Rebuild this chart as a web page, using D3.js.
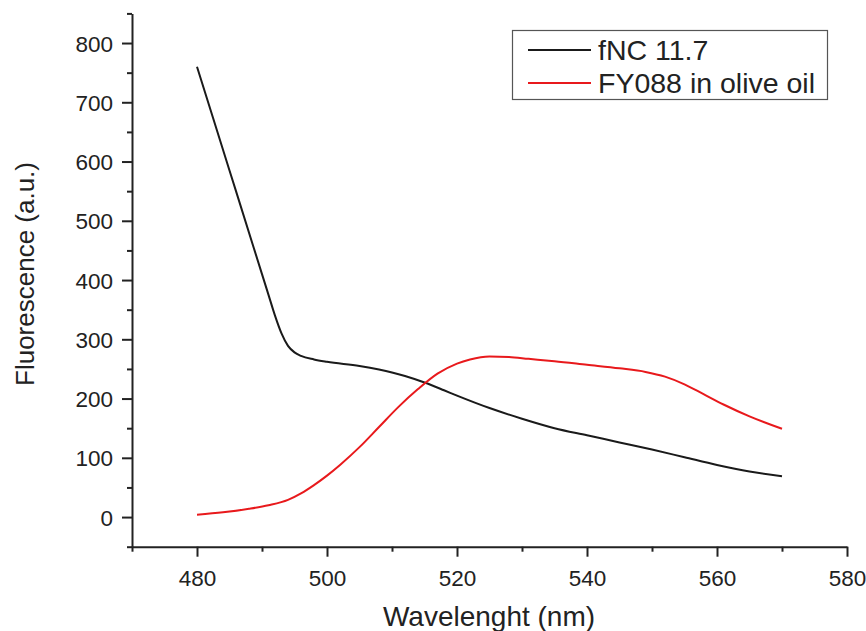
<!DOCTYPE html>
<html lang="en">
<head>
  <meta charset="UTF-8" />
  <title>Fluorescence spectra</title>
  <script src="https://d3js.org/d3.v7.min.js"></script>
  <style>
    body { margin: 0; background: #fff; }
    svg { display: block; font-family: "Liberation Sans", Arial, sans-serif; }
    .tick text { fill: #222; }
  </style>
</head>
<body>
  <div id="chart"></div>

  <script>
    // fNC 11.7 (black)
    const fncWavelength = [480, 485, 490, 491, 492, 493, 494, 495, 496, 498, 500, 505, 508, 510, 512, 515, 518, 520, 525, 530, 535, 540, 545, 550, 555, 560, 565, 570];
    const fncValues = [760, 585, 410, 375, 340, 310, 289, 278, 272, 266, 262, 255, 249, 244, 238, 227, 214, 205, 184, 166, 150, 138, 126, 114, 101, 88, 77, 69];

    // FY088 in olive oil (red)
    const fyWavelength = [480, 484, 488, 491, 494, 496, 498, 500, 502, 505, 508, 511, 514, 517, 520, 522, 525, 528, 531, 535, 540, 545, 549, 552, 555, 558, 561, 565, 570];
    const fyValues = [4, 8, 14, 20, 29, 40, 54, 70, 88, 118, 152, 186, 216, 242, 259, 266, 271, 270, 267, 263, 257, 251, 245, 237, 224, 207, 190, 170, 149];

    const xTicks = [480, 500, 520, 540, 560, 580];
    const xMinor = [470, 490, 510, 530, 550, 570];
    const yTicks = [0, 100, 200, 300, 400, 500, 600, 700, 800];
    const yMinor = [-50, 50, 150, 250, 350, 450, 550, 650, 750, 850];

    const seriesNames = ["fNC 11.7", "FY088 in olive oil"];
    const seriesColors = ["#1a1a1a", "#e8191c"];

    const width = 866, height = 631;

    const x = d3.scaleLinear().domain([470, 580]).range([132, 847]);
    const y = d3.scaleLinear().domain([-50, 850]).range([546.7, 13.4]);

    const svg = d3.create("svg")
      .attr("width", width)
      .attr("height", height)
      .attr("viewBox", [0, 0, width, height]);

    // axes
    const xAxis = svg.append("g")
      .attr("transform", `translate(0,${y(-50)})`)
      .call(d3.axisBottom(x).tickValues(xTicks).tickSize(10).tickSizeOuter(0).tickPadding(8));
    svg.append("g")
      .attr("transform", `translate(0,${y(-50)})`)
      .call(d3.axisBottom(x).tickValues(xMinor).tickSize(5).tickFormat(""))
      .call(g => g.select(".domain").remove());

    const yAxis = svg.append("g")
      .attr("transform", `translate(${x(470)},0)`)
      .call(d3.axisLeft(y).tickValues(yTicks).tickSize(10).tickSizeOuter(0).tickPadding(9));
    svg.append("g")
      .attr("transform", `translate(${x(470)},0)`)
      .call(d3.axisLeft(y).tickValues(yMinor).tickSize(5).tickFormat(""))
      .call(g => g.select(".domain").remove());

    svg.selectAll(".domain, .tick line")
      .attr("stroke", "#222")
      .attr("stroke-width", 2);

    xAxis.selectAll(".tick text")
      .attr("font-size", 22.5)
      .attr("font-family", "Liberation Sans, Arial, sans-serif")
      .attr("dy", "0.95em");
    yAxis.selectAll(".tick text")
      .attr("font-size", 22.5)
      .attr("font-family", "Liberation Sans, Arial, sans-serif")
      .attr("dy", "0.36em");

    // axis titles
    svg.append("text")
      .attr("x", 489)
      .attr("y", 626)
      .attr("text-anchor", "middle")
      .attr("font-size", 28)
      .attr("fill", "#222")
      .text("Wavelenght (nm)");

    svg.append("text")
      .attr("transform", "translate(34,274) rotate(-90)")
      .attr("text-anchor", "middle")
      .attr("font-size", 26)
      .attr("fill", "#222")
      .text("Fluorescence (a.u.)");

    // curves
    const line = d3.line()
      .x(d => x(d[0]))
      .y(d => y(d[1]))
      .curve(d3.curveMonotoneX);

    const series = [
      d3.zip(fncWavelength, fncValues),
      d3.zip(fyWavelength, fyValues)
    ];

    svg.selectAll(".curve")
      .data(series)
      .join("path")
      .attr("class", "curve")
      .attr("fill", "none")
      .attr("stroke", (d, i) => seriesColors[i])
      .attr("stroke-width", 2)
      .attr("d", line);

    // legend
    const legend = svg.append("g");
    legend.append("rect")
      .attr("x", 512.5).attr("y", 30.5)
      .attr("width", 315).attr("height", 69)
      .attr("fill", "#fff")
      .attr("stroke", "#555")
      .attr("stroke-width", 1.2);

    const items = legend.selectAll(".item")
      .data(seriesNames)
      .join("g")
      .attr("transform", (d, i) => `translate(0,${50 + i * 33})`);
    items.append("line")
      .attr("x1", 528).attr("x2", 591)
      .attr("stroke", (d, i) => seriesColors[i])
      .attr("stroke-width", 2);
    items.append("text")
      .attr("x", 598)
      .attr("dy", "0.36em")
      .attr("font-size", 28.5)
      .attr("fill", "#222")
      .text(d => d);

    document.getElementById("chart").appendChild(svg.node());
  </script>
</body>
</html>
